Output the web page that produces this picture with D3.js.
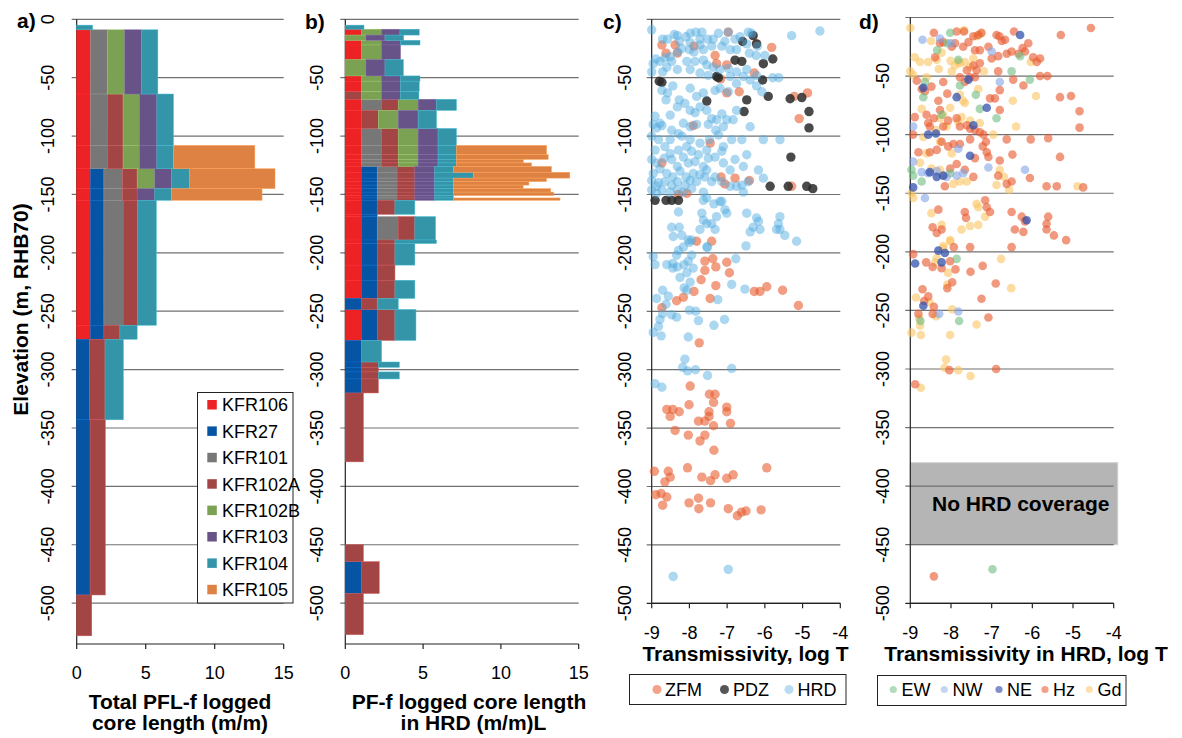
<!DOCTYPE html>
<html><head><meta charset="utf-8">
<script src="https://cdn.jsdelivr.net/npm/d3@7"></script>
<style>
body{margin:0;background:#fff}
svg{display:block}
text{font-family:"Liberation Sans",Arial,sans-serif;fill:#000}
</style>
</head><body>
<svg id="chart" width="1182" height="738"></svg>
<script>
// ---------------- DATA ----------------
const boreholes = ["KFR106","KFR27","KFR101","KFR102A","KFR102B","KFR103","KFR104","KFR105"];
const boreColors = ["#ed2224","#0655a5","#777777","#a44545","#7ba152","#675388","#3495a9","#dd8243"];
const elevTicks = [0,-50,-100,-150,-200,-250,-300,-350,-400,-450,-500];
const lengthTicks = [0,5,10,15];
const logTTicks = [-9,-8,-7,-6,-5,-4];

// Panel a: depth intervals (m) and total PFL-f core length per borehole (m/m)
const aTop = [-5,-9,-64,-108,-128,-145,-155,-262,-274,-343,-493];
const aBot = [-9,-64,-108,-128,-145,-155,-262,-274,-343,-493,-528];
const aKFR106  = [0,1,1,1,1,1,1,1,0,0,0];
const aKFR27   = [0,0,0,0,0.97,0.97,0.97,0.97,0.92,0.97,0];
const aKFR101  = [0,1.23,1.23,1.23,1.35,1.35,1.4,0,0,0,0];
const aKFR102A = [0,0,1.13,1.13,1.06,1.06,1.05,1.16,1.13,1.1,1.09];
const aKFR102B = [0,1.25,1.2,1.2,1.28,0,0,0,0,0,0];
const aKFR103  = [0,1.2,1.25,1.25,1.2,1.28,0,0,0,0,0];
const aKFR104  = [1.15,1.2,1.2,1.2,1.33,1.2,1.35,1.25,1.33,0,0];
const aKFR105  = [0,0,0,5.9,6.18,6.57,0,0,0,0,0];

// Panel b: depth intervals and PF-f core length in HRD
const bTop = [-5,-8.5,-13.5,-18,-22,-34.5,-48.5,-53,-62,-68.5,-78,-93.5,-108,-116,-120,-123,-126,-131,-136,-139,-142,-145,-148,-151,-153,-155,-167,-169,-189,-192,-210.5,-223.5,-239,-248.5,-275,-293.5,-298,-302,-308,-320,-450,-464.5,-491.7];
const bBot = [-8.5,-13.5,-18,-22,-34.5,-48.5,-53,-62,-68.5,-78,-93.5,-108,-116,-120,-123,-126,-131,-136,-139,-142,-145,-148,-151,-153,-155,-167,-169,-189,-192,-210.5,-223.5,-239,-248.5,-275,-293.5,-298,-302,-308,-320,-379,-464.5,-491.7,-527];
const bKFR106 = [0,1.05,0,1.05,1.05,0,1.05,1.05,0,
  1.05,1.05,1.05,1.05,1.05, 1.05,1.05,1.05,1.05,1.05, 1.05,1.05,1.05,1.05,1.05,
  1.05,1.05,1.05,1.05,1.05, 1.05,1.05,1.05,0,1.05, 0,0,0,0,0, 0,0,0,0];
const bKFR27 = [0,0,0,0,0,0,0,0,0,
  0,0,0,0,0, 0,0,1,1,1, 1,1,1,1,1,
  1,1,1,1,1, 1,1,1,1.05,1, 1.05,1.05,1.05,1.05,1.05, 0,0,1.05,0];
const bKFR101 = [0,0,0,0,0,0,0,0,0,
  1.28,0,1.28,1.28,1.28, 1.28,1.28,1.28,1.28,1.28, 1.28,1.28,1.28,1.28,1.28,
  1.28,0,0,1.35,0, 0,0,0,0,0, 0,0,0,0,0, 0,0,0,0];
const bKFR102A = [0,0,0,0,0,0,0,0,1.05,
  1.07,1.07,1.07,1.07,1.07, 1.07,1.07,1.14,1.14,1.14, 1.14,1.14,1.14,1.14,1.14,
  1.14,1.14,0,1.07,1.14, 1.14,1.14,1.14,1.0,1.14, 0,1.07,1.07,1.07,1.07, 1.16,1.16,1.13,1.16];
const bKFR102B = [0,1.28,1.33,1.28,1.28,1.33,1.28,1.28,1.28,
  1.28,1.28,1.28,1.28,1.28, 1.28,1.28,0,0,0, 0,0,0,0,0,
  0,0,0,0,0, 0,0,0,0,0, 0,0,0,0,0, 0,0,0,0];
const bKFR103 = [0,1.18,1.22,1.2,1.22,1.22,1.2,1.22,1.2,
  1.18,1.28,1.28,1.28,1.28, 1.28,1.28,1.28,1.28,1.28, 1.28,1.28,1.28,1.28,1.28,
  1.28,0,0,0,0, 0,0,0,0,0, 0,0,0,0,0, 0,0,0,0];
const bKFR104 = [1.2,1.24,1.2,1.27,0,1.18,1.27,1.2,1.2,
  1.28,1.18,1.18,1.18,1.18, 1.18,1.18,1.2,2.47,1.2, 1.2,1.2,1.2,1.2,1.2,
  1.2,1.28,0,1.33,2.67, 1.28,0,1.28,1.35,1.35, 1.28,1.35,0,1.35,0, 0,0,0,0];
const bKFR105 = [0,0,0,0,0,0,0,0,0,
  0,0,0,5.8,5.9, 4.3,4.83,6.3,6.21,5.98, 4.85,4.48,6.25,6.45,0,
  6.85,0,0,0,0, 0,0,0,0,0, 0,0,0,0,0, 0,0,0,0];

// Panel c: [log T, elevation]
const cZFM = [[-8.73,-22],[-8.62,-29],[-8.38,-22],[-8.32,-29],[-7.88,-23],[-7.32,-31],[-7.28,-38],[-7.01,-39],[-6.97,-11],[-5.82,-24],[-6.28,-46],[-7.17,-51],[-7.01,-63],[-6.68,-62],[-5.22,-66],[-4.87,-63],[-5.09,-85],[-7.45,-106],[-8.73,-123],[-7.16,-135],[-7.06,-141],[-6.79,-136],[-6.41,-138],[-5.29,-143],[-8.29,-150],[-8.07,-149],[-7.81,-190],[-7.41,-190],[-7.90,-91],[-6.22,-21],
 [-7.59,-207],[-7.38,-205],[-7.01,-208],[-7.59,-215],[-7.30,-212],[-6.94,-217],[-7.69,-223],[-7.88,-233],[-7.30,-228],[-6.28,-233],[-6.13,-233],[-5.95,-229],[-5.53,-232],[-5.11,-245],[-7.45,-239],[-8.34,-241],[-8.16,-238],[-8.73,-247],[-7.74,-277],
 [-7.98,-314],[-7.47,-321],[-7.32,-321],[-7.36,-328],[-8.01,-330],[-8.60,-334],[-8.44,-334],[-8.51,-340],[-8.27,-336],[-7.01,-332],[-7.01,-336],[-7.48,-336],[-7.48,-340],[-7.76,-344],[-7.59,-344],[-7.36,-348],[-6.91,-346],[-8.38,-352],[-8.03,-356],[-7.59,-356],[-7.72,-361],[-7.35,-369],
 [-8.93,-387],[-8.56,-387],[-8.51,-392],[-8.05,-384],[-7.67,-392],[-7.44,-395],[-7.32,-390],[-7.01,-393],[-6.84,-390],[-5.95,-384],[-8.65,-396],
 [-8.89,-407],[-8.75,-406],[-8.60,-409],[-8.71,-416],[-8.01,-414],[-7.76,-410],[-7.75,-419],[-7.44,-414],[-6.97,-419],[-6.73,-425],[-6.62,-422],[-6.50,-421],[-6.10,-420]];
const cPDZ = [[-6.31,-14],[-6.59,-19],[-6.22,-21],[-6.79,-35],[-6.61,-36],[-6.04,-38],[-5.79,-34],[-8.80,-53],[-8.73,-54],[-7.28,-49],[-7.23,-50],[-6.06,-52],[-7.54,-70],[-6.48,-69],[-6.55,-79],[-5.91,-66],[-5.33,-68],[-5.02,-67],[-4.83,-79],[-4.83,-93],[-5.31,-118],[-5.86,-143],[-5.38,-143],[-4.89,-143],[-4.73,-145],[-8.91,-155],[-8.62,-155],[-8.47,-155],[-8.29,-155]];
const cHRD = [[-9.0,-9],[-8.40,-13],[-8.32,-14],[-7.98,-12],[-7.83,-11],[-7.67,-11],[-7.23,-12],[-6.97,-11],[-6.44,-11],[-6.35,-12],[-5.29,-14],[-4.54,-10],
 [-8.71,-17],[-8.58,-17],[-8.27,-19],[-8.09,-15],[-7.98,-20],[-7.72,-17],[-7.52,-17],[-7.37,-17],[-7.06,-19],[-6.79,-17],[-6.66,-15],[-6.48,-21],[-6.20,-23],
 [-8.89,-34],[-8.65,-33],[-8.51,-32],[-8.31,-28],[-8.20,-25],[-8.00,-26],[-7.88,-28],[-7.72,-22],[-7.63,-26],[-7.41,-23],[-7.14,-23],[-6.92,-26],[-6.75,-26],[-6.41,-29],[-6.23,-31],[-6.00,-31],
 [-8.96,-38],[-8.78,-36],[-8.47,-36],[-8.32,-43],[-8.07,-36],[-7.85,-36],[-7.63,-35],[-7.54,-39],[-7.37,-41],[-7.19,-43],[-6.97,-42],[-6.75,-45],[-6.48,-43],[-6.22,-48],[-5.79,-50],[-5.63,-50],
 [-9.0,-45],[-8.71,-45],[-8.60,-41],[-7.98,-43],[-7.72,-46],[-7.50,-48],[-6.92,-49],[-6.57,-49],[-6.39,-52],
 [-8.73,-61],[-8.62,-69],[-8.58,-63],[-8.44,-57],[-8.27,-69],[-7.98,-59],[-7.81,-66],[-7.63,-63],[-7.32,-61],[-7.19,-59],[-6.97,-62],[-6.75,-55],[-6.22,-57],[-6.08,-62],
 [-8.91,-83],[-8.78,-89],[-8.51,-82],[-8.32,-75],[-8.12,-72],[-7.98,-78],[-7.85,-80],[-7.72,-75],[-7.54,-78],[-7.41,-85],[-7.28,-86],[-7.14,-81],[-7.01,-86],[-6.84,-86],[-6.75,-78],[-6.39,-92],
 [-8.96,-90],[-8.87,-93],[-8.73,-91],[-8.47,-95],[-8.29,-98],[-8.16,-89],[-7.98,-92],[-7.81,-90],[-7.50,-90],[-7.30,-95],[-7.10,-92],
 [-9.0,-100],[-8.82,-103],[-8.51,-103],[-8.20,-100],[-7.98,-103],[-7.72,-106],[-7.47,-103],[-7.23,-99],[-7.10,-109],[-6.88,-103],[-6.61,-103],[-6.04,-103],[-5.60,-103],
 [-8.91,-112],[-8.65,-109],[-8.51,-115],[-8.29,-112],[-8.07,-109],[-7.94,-113],[-7.76,-116],[-7.54,-112],[-7.32,-118],[-7.14,-113],[-6.79,-120],[-6.48,-116],
 [-9.0,-120],[-8.87,-123],[-8.67,-119],[-8.47,-120],[-8.32,-126],[-8.16,-118],[-8.03,-123],[-7.85,-122],[-7.63,-126],[-7.50,-119],[-7.10,-123],[-6.57,-126],[-6.17,-129],[-6.04,-136],
 [-8.96,-132],[-8.78,-128],[-8.60,-132],[-8.44,-135],[-8.25,-130],[-8.09,-135],[-7.90,-132],[-7.72,-133],[-7.54,-129],[-7.32,-135],[-6.92,-129],
 [-9.0,-138],[-8.82,-140],[-8.65,-139],[-8.47,-142],[-8.32,-139],[-8.12,-142],[-7.98,-138],[-7.81,-139],[-7.59,-135],[-7.41,-139],[-7.14,-139],[-6.75,-143],[-6.61,-142],[-6.44,-139],
 [-9.0,-146],[-8.87,-149],[-8.73,-146],[-8.51,-148],[-8.32,-146],[-8.16,-148],[-7.94,-145],[-7.63,-148],[-7.54,-153],[-7.14,-156],[-6.92,-143],[-6.57,-148],[-8.87,-143],
 [-7.63,-155],[-7.35,-158],[-7.19,-156],[-7.06,-163],[-7.01,-166],[-8.29,-165],[-7.67,-166],[-7.63,-172],[-7.54,-175],[-7.41,-175],[-7.28,-169],[-6.48,-166],[-6.22,-170],[-6.17,-173],[-6.31,-178],[-6.13,-180],[-6.39,-182],[-5.60,-169],[-5.64,-175],[-5.60,-180],[-5.69,-180],[-5.47,-185],[-5.16,-190],
 [-8.47,-178],[-8.27,-178],[-8.43,-186],[-8.20,-185],[-7.72,-180],[-7.94,-189],[-7.32,-180],[-7.54,-195],[-8.03,-189],
 [-8.96,-203],[-8.91,-210],[-8.60,-210],[-8.44,-209],[-8.34,-202],[-8.32,-212],[-8.14,-210],[-8.03,-207],[-7.94,-202],[-8.00,-191],[-8.16,-195],[-8.29,-198],[-8.07,-217],[-7.90,-213],[-8.25,-221],[-8.44,-213],[-8.14,-230],[-7.98,-225],[-8.07,-232],[-8.71,-232],[-8.87,-239],[-8.56,-237],[-8.62,-244],[-8.71,-252],[-8.47,-253],[-8.34,-255],[-8.78,-257],[-8.82,-263],[-8.75,-271],[-8.96,-268],[-8.00,-249],[-7.83,-250],[-7.76,-258],[-7.35,-262],[-7.07,-257],[-8.03,-272],[-7.25,-240],[-6.88,-227],[-6.53,-231],[-6.50,-194],[-6.77,-205],[-7.52,-195],
 [-8.12,-291],[-8.18,-298],[-8.05,-301],[-7.84,-300],[-7.52,-305],[-6.88,-299],[-8.91,-312],[-8.73,-315],
 [-8.43,-477],[-6.97,-471]];

// Panel d: [log T, elevation] by fracture set
const dEW = [[-8.02,-13],[-8.09,-22],[-7.82,-36],[-6.51,-46],[-6.30,-33],[-8.68,-68],[-8.34,-28],[-8.64,-55],[-7.39,-66],[-7.29,-78],[-6.88,-86],[-8.23,-83],[-7.78,-58],[-6.06,-53],[-8.02,-133],[-8.93,-135],[-8.97,-130],[-8.72,-140],[-7.86,-206],[-8.75,-259],[-7.80,-259],[-6.98,-471]];
const dNW = [[-8.70,-19],[-8.27,-18],[-8.00,-22],[-7.00,-29],[-6.80,-55],[-6.18,-130],[-7.08,-128],[-7.82,-112],[-8.93,-123],[-8.72,-132],[-8.64,-154],[-7.86,-135],[-8.11,-136],[-8.35,-131],[-8.56,-133],[-7.70,-133],[-8.93,-93],[-7.82,-251],[-8.29,-253]];
const dNE = [[-6.30,-15],[-7.57,-53],[-8.68,-60],[-7.86,-68],[-7.12,-77],[-7.45,-92],[-8.56,-100],[-7.53,-118],[-8.52,-132],[-8.35,-136],[-8.19,-135],[-8.93,-145],[-6.14,-173],[-8.37,-99],[-8.88,-210],[-8.68,-246],[-8.23,-209],[-8.31,-199],[-8.15,-201]];
const dHz = [[-8.42,-13],[-7.86,-12],[-7.68,-12],[-7.57,-21],[-7.45,-16],[-7.33,-15],[-7.25,-13],[-6.88,-15],[-6.81,-16],[-6.75,-20],[-6.67,-19],[-6.45,-12],[-6.24,-26],[-6.10,-22],[-6.18,-29],[-5.98,-34],[-5.81,-35],[-5.89,-38],[-7.29,-28],[-7.41,-28],[-7.08,-25],[-7.00,-35],[-6.84,-33],[-6.63,-31],[-6.51,-29],[-6.34,-31],[-7.70,-25],[-7.90,-22],[-7.98,-25],[-8.27,-22],[-8.39,-34],[-8.19,-21],
 [-7.78,-51],[-7.61,-45],[-7.45,-41],[-7.37,-45],[-7.29,-39],[-7.53,-51],[-7.41,-51],[-7.66,-55],[-6.84,-46],[-6.80,-62],[-6.47,-53],[-6.22,-58],[-5.81,-50],[-5.63,-50],[-5.32,-68],[-5.05,-67],[-4.84,-80],[-4.84,-94],[-5.30,-15],[-4.56,-9],
 [-8.84,-54],[-8.72,-61],[-8.64,-63],[-8.48,-59],[-8.19,-55],[-8.09,-65],[-8.31,-71],[-8.27,-79],[-8.60,-83],[-8.89,-85],[-8.56,-90],[-8.52,-93],[-8.42,-86],[-8.19,-93],[-8.07,-88],[-7.86,-86],[-7.78,-93],[-7.61,-92],[-7.53,-95],[-7.41,-96],[-7.29,-98],[-7.20,-100],[-7.14,-106],[-7.22,-110],[-7.12,-115],[-7.08,-119],[-7.41,-120],[-7.53,-104],[-7.78,-108],[-7.94,-108],[-8.07,-110],[-8.23,-106],[-8.35,-113],[-8.52,-115],[-8.80,-115],[-8.93,-100],
 [-6.63,-104],[-6.04,-104],[-5.61,-103],[-5.32,-119],[-6.49,-117],[-6.80,-122],[-6.84,-135],[-6.63,-142],[-6.51,-140],[-6.06,-137],[-5.65,-144],[-5.40,-144],[-4.75,-145],[-7.04,-69],[-6.92,-69],[-6.80,-79],
 [-8.31,-164],[-8.45,-179],[-8.35,-184],[-8.23,-181],[-7.66,-166],[-7.63,-171],[-7.16,-156],[-7.12,-162],[-7.04,-166],[-6.51,-166],[-6.26,-170],[-6.18,-174],[-6.43,-181],[-6.22,-183],[-5.61,-170],[-5.65,-176],[-5.65,-181],[-5.47,-186],[-5.17,-190],[-7.53,-196],[-6.51,-196],[-8.15,-144],[-7.86,-125],[-7.66,-130],[-7.45,-136],[-8.02,-129],
 [-8.93,-202],[-8.61,-209],[-8.45,-213],[-8.23,-214],[-8.02,-208],[-7.89,-215],[-7.52,-217],[-7.22,-212],[-6.90,-227],[-8.70,-232],[-8.56,-238],[-8.66,-242],[-8.42,-247],[-8.45,-253],[-8.80,-253],[-8.09,-231],[-7.97,-226],[-7.25,-240],[-7.08,-256],[-8.04,-301],[-6.89,-300],[-8.88,-313],[-7.93,-196],[-8.42,-477]];
const dGd = [[-9.0,-9],[-8.49,-20],[-7.68,-11],[-8.89,-34],[-8.76,-38],[-8.56,-38],[-8.35,-36],[-8.23,-30],[-8.01,-37],[-7.82,-38],[-7.66,-38],[-7.45,-35],[-7.27,-14],[-7.37,-16],[-7.19,-46],[-9.0,-46],[-8.93,-49],[-8.60,-51],[-8.30,-44],[-7.98,-46],[-7.90,-41],[-7.78,-39],[-7.53,-42],
 [-7.33,-61],[-7.78,-66],[-7.70,-71],[-7.66,-73],[-8.72,-78],[-8.02,-77],[-8.19,-83],[-8.27,-86],[-8.11,-93],[-8.37,-96],[-7.74,-85],[-7.53,-88],[-7.29,-90],[-6.96,-100],[-6.40,-93],[-6.48,-71],[-5.91,-67],[-6.04,-38],
 [-8.68,-102],[-8.27,-106],[-7.82,-89],[-8.76,-124],[-8.48,-129],[-8.27,-130],[-8.60,-116],[-7.98,-116],[-8.19,-135],[-7.78,-140],[-7.94,-142],[-7.61,-140],[-7.37,-159],[-7.33,-162],[-7.16,-170],[-7.33,-177],[-7.74,-181],[-7.53,-178],[-6.80,-130],[-6.70,-136],[-6.88,-143],[-6.57,-147],[-8.93,-154],[-8.97,-150],[-8.48,-167],[-8.23,-177],[-8.02,-190],[-8.19,-197],[-4.89,-144],
 [-8.86,-239],[-8.53,-243],[-8.35,-205],[-8.39,-209],[-8.07,-218],[-8.09,-228],[-7.97,-249],[-8.37,-255],[-8.78,-257],[-8.76,-263],[-8.97,-269],[-8.74,-271],[-8.02,-271],[-8.12,-292],[-8.16,-299],[-7.82,-301],[-7.52,-306],[-7.37,-262],[-6.77,-206],[-6.52,-231],[-8.74,-316],[-8.19,-195],[-8.02,-191]];

const noCoverage = [-380,-450];

// ---------------- DRAW ----------------
const svg = d3.select("#chart");

const yAB = d3.scaleLinear().domain([0,-535]).range([19.3,644]);
const yC  = d3.scaleLinear().domain([0,-500]).range([19.3,603.3]);
const yD  = d3.scaleLinear().domain([0,-500]).range([17.5,603.3]);
const xA = d3.scaleLinear().domain([0,15]).range([76.7,283.7]);
const xB = d3.scaleLinear().domain([0,15]).range([345.3,578.7]);
const xC = d3.scaleLinear().domain([-9,-4]).range([651.7,840.3]);
const xD = d3.scaleLinear().domain([-9,-4]).range([910.3,1113.7]);

function frame(x, y, yMin, xTicks, labelX, xLabelY, showZero){
  const g = svg.append("g");
  const x0 = x.range()[0], x1 = x.range()[1];
  g.selectAll("line.grid").data(elevTicks).join("line")
    .attr("x1", x0-5).attr("x2", x1)
    .attr("y1", d=>y(d)).attr("y2", d=>y(d))
    .attr("stroke", d=> d===yMin ? "#222" : "#707070").attr("stroke-width", 1.2);
  g.selectAll("text.yt").data(elevTicks.filter(d=>showZero || d!==0)).join("text")
    .attr("transform", d=>`translate(${labelX},${y(d)}) rotate(-90)`)
    .attr("text-anchor","middle").attr("dy","0.35em")
    .style("font-size","18px").text(d=>String(d));
  g.append("line").attr("x1",x0).attr("x2",x0).attr("y1",y(0)).attr("y2",y(yMin))
    .attr("stroke","#222").attr("stroke-width",1.2);
  g.append("line").attr("x1",x0).attr("x2",x1).attr("y1",y(yMin)).attr("y2",y(yMin))
    .attr("stroke","#222").attr("stroke-width",1.2);
  g.selectAll("line.xt").data(xTicks).join("line")
    .attr("x1",d=>x(d)).attr("x2",d=>x(d)).attr("y1",y(yMin)).attr("y2",y(yMin)+5)
    .attr("stroke","#222").attr("stroke-width",1.2);
  g.selectAll("text.xtl").data(xTicks).join("text")
    .attr("x",d=>x(d)).attr("y",xLabelY).attr("text-anchor","middle").attr("dy","0.35em")
    .style("font-size","18px").text(d=>String(d));
  return g;
}

function bars(x, y, tops, bots, series){
  const rows = tops.map((t,i)=>{
    const o = {top:t, bot:bots[i]};
    boreholes.forEach((b,j)=>{ o[b] = series[j][i] || 0; });
    return o;
  });
  const layers = d3.stack().keys(boreholes)(rows);
  const g = svg.append("g");
  layers.forEach((layer,j)=>{
    g.append("g").attr("fill", boreColors[j])
      .attr("stroke", d3.color(boreColors[j]).brighter(0.6)).attr("stroke-width", 0.5)
      .selectAll("rect").data(layer.filter(d=>d[1]-d[0]>0)).join("rect")
      .attr("x", d=>x(d[0])).attr("width", d=>x(d[1])-x(d[0]))
      .attr("y", d=>y(d.data.top)).attr("height", d=>y(d.data.bot)-y(d.data.top));
  });
}

function points(x, y, data, color, op, r){
  svg.append("g").selectAll("circle").data(data).join("circle")
    .attr("cx", d=>x(d[0])).attr("cy", d=>y(d[1])).attr("r", r)
    .attr("fill", color).attr("fill-opacity", op);
}

function label(txt, x, y, size, bold, anchor, rot){
  const t = svg.append("text").attr("text-anchor", anchor||"middle")
    .style("font-size", size+"px").style("font-weight", bold?"bold":"normal").text(txt);
  if (rot) t.attr("transform",`translate(${x},${y}) rotate(${rot})`).attr("dy","0.35em");
  else t.attr("x",x).attr("y",y);
  return t;
}

// Panel a
frame(xA, yAB, -535, lengthTicks, 47.5, 673, true);
bars(xA, yAB, aTop, aBot, [aKFR106,aKFR27,aKFR101,aKFR102A,aKFR102B,aKFR103,aKFR104,aKFR105]);
// Panel b
frame(xB, yAB, -535, lengthTicks, 316.5, 673, false);
bars(xB, yAB, bTop, bBot, [bKFR106,bKFR27,bKFR101,bKFR102A,bKFR102B,bKFR103,bKFR104,bKFR105]);

// Panel d grey box (under grid)
svg.append("rect").attr("x", xD(-9)).attr("y", yD(noCoverage[0]))
  .attr("width", xD(-4)-xD(-9)+4).attr("height", yD(noCoverage[1])-yD(noCoverage[0]))
  .attr("fill","#b5b5b5").attr("stroke","#cfcfcf").attr("stroke-width",1);

// Panel c
frame(xC, yC, -500, logTTicks, 624.5, 632.5, false);
points(xC, yC, cZFM, "#e85d30", 0.6, 4.7);
points(xC, yC, cPDZ, "#2a2a2a", 0.85, 4.7);
points(xC, yC, cHRD, "#52ace0", 0.48, 4.7);

// Panel d
frame(xD, yD, -500, logTTicks, 882.5, 632.5, false);
points(xD, yD, dGd, "#fcc462", 0.6, 4.3);
points(xD, yD, dHz, "#e65a30", 0.62, 4.3);
points(xD, yD, dEW, "#6fbc82", 0.6, 4.3);
points(xD, yD, dNW, "#82a3e6", 0.6, 4.3);
points(xD, yD, dNE, "#3352ae", 0.75, 4.3);
label("No HRD coverage", 932, 511, 21, true, "start");

// Panel letters
label("a)", 17, 28, 21, true, "start");
label("b)", 305, 29, 21, true, "start");
label("c)", 603, 29, 21, true, "start");
label("d)", 859, 29, 21, true, "start");

// Axis titles
label("Elevation (m, RHB70)", 21, 309.5, 21, true, "middle", -90);
label("Total PFL-f logged", 180, 709, 21, true);
label("core length (m/m)", 180, 730, 21, true);
label("PF-f logged core length", 469, 709, 21, true);
label("in HRD (m/m)L", 473.5, 730, 21, true);
label("Transmissivity, log T", 745.5, 661, 21, true);
label("Transmissivity in HRD, log T", 1026, 661, 21, true);

// Legend a
const legA = svg.append("g");
legA.append("rect").attr("x",197.5).attr("y",392.5).attr("width",95.5).attr("height",210.5)
  .attr("fill","#fff").attr("stroke","#222").attr("stroke-width",1);
boreholes.forEach((b,i)=>{
  const cy = 405 + i*26.4;
  legA.append("rect").attr("x",207.3).attr("y",cy-5).attr("width",9.5).attr("height",9.5).attr("fill",boreColors[i]);
  legA.append("text").attr("x",222).attr("y",cy).attr("dy","0.35em").style("font-size","18px").text(b);
});

// Legend c
const legC = svg.append("g");
legC.append("rect").attr("x",629.5).attr("y",674.5).attr("width",216.5).attr("height",30)
  .attr("fill","#fff").attr("stroke","#222").attr("stroke-width",1);
[["ZFM","#f4a38a",657,665],["PDZ","#555555",724.5,733],["HRD","#b8dcf4",789,797.5]].forEach(d=>{
  legC.append("circle").attr("cx",d[2]).attr("cy",689.5).attr("r",4.5).attr("fill",d[1]);
  legC.append("text").attr("x",d[3]).attr("y",689.5).attr("dy","0.35em").style("font-size","18px").text(d[0]);
});

// Legend d
const legD = svg.append("g");
legD.append("rect").attr("x",877.5).attr("y",675.5).attr("width",248.5).attr("height",30)
  .attr("fill","#fff").attr("stroke","#222").attr("stroke-width",1);
[["EW","#b3dcbf",893.3,901.5],["NW","#c6d6f2",944.3,952.5],["NE","#7f8fcc",999,1007],["Hz","#f2a088",1045,1053],["Gd","#fde0ae",1089.3,1097.5]].forEach(d=>{
  legD.append("circle").attr("cx",d[2]).attr("cy",689.5).attr("r",3.6).attr("fill",d[1]);
  legD.append("text").attr("x",d[3]).attr("y",689.5).attr("dy","0.35em").style("font-size","18px").text(d[0]);
});
</script>
</body></html>
